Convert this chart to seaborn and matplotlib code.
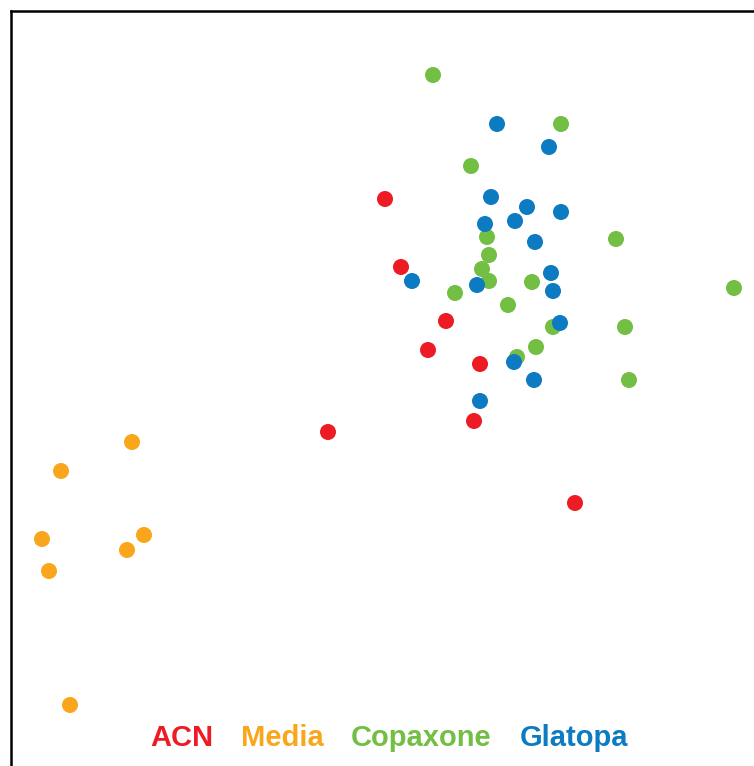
import pandas as pd
import seaborn as sns
import matplotlib.pyplot as plt
import numpy as np

# -----------------------------
# data (arbitrary units)
# -----------------------------
acn_x = [37.4, 39.0, 43.5, 41.7, 46.9, 46.3, 31.7, 56.4]
acn_y = [56.7, 49.9, 44.5, 41.6, 40.2, 34.5, 33.4, 26.3]

media_x = [12.1, 5.0, 3.1, 3.8, 13.3, 11.6, 5.9]
media_y = [32.4, 29.5, 22.7, 19.5, 23.1, 21.6, 6.1]

copaxone_x = [42.2, 55.0, 46.0, 47.6, 60.5, 47.8, 47.1, 47.8, 52.1, 44.4,
              49.7, 54.2, 61.4, 52.5, 50.6, 61.8, 72.3]
copaxone_y = [69.1, 64.2, 60.0, 52.9, 52.7, 51.1, 49.7, 48.5, 48.4, 47.3,
              46.1, 43.9, 43.9, 41.9, 40.9, 38.6, 47.8]

glatopa_x = [48.6, 53.8, 48.0, 51.6, 55.0, 50.4, 47.4, 52.4, 54.0, 40.1,
             46.6, 54.2, 54.9, 50.3, 52.3, 46.9]
glatopa_y = [64.2, 61.9, 56.9, 55.9, 55.4, 54.5, 54.2, 52.4, 49.3, 48.5,
             48.1, 47.5, 44.3, 40.4, 38.6, 36.5]

groups = ["ACN", "Media", "Copaxone", "Glatopa"]
colors = ["#ED1C24", "#F9A61C", "#72BF44", "#0C7BC1"]

df = pd.concat([
    pd.DataFrame({"x": acn_x, "y": acn_y, "group": "ACN"}),
    pd.DataFrame({"x": media_x, "y": media_y, "group": "Media"}),
    pd.DataFrame({"x": copaxone_x, "y": copaxone_y, "group": "Copaxone"}),
    pd.DataFrame({"x": glatopa_x, "y": glatopa_y, "group": "Glatopa"}),
], ignore_index=True)

# -----------------------------
# plot
# -----------------------------
sns.set_style("white")
plt.rcParams['font.family'] = ['Liberation Sans', 'DejaVu Sans']

fig = plt.figure(figsize=(7.54, 7.66), dpi=100)
# axes runs past the right and bottom edge of the picture (cropped frame)
ax = fig.add_axes([11 / 754, -10 / 766, 780 / 754, 765 / 766])

sns.scatterplot(data=df, x="x", y="y", hue="group", hue_order=groups,
                palette=colors, s=133, linewidth=0, alpha=1,
                ax=ax, legend=True)

ax.set_xlim(0, 78.0)
ax.set_ylim(-1.0, 75.5)
ax.set_xticks([])
ax.set_yticks([])
ax.set_xlabel("")
ax.set_ylabel("")
for side in ["right", "bottom"]:
    ax.spines[side].set_visible(False)
for side in ["left", "top"]:
    ax.spines[side].set_color("black")
    ax.spines[side].set_linewidth(1.8)

# legend: coloured bold labels only
sns.move_legend(ax, "center", bbox_to_anchor=(389 / 754, 28 / 766),
                bbox_transform=fig.transFigure, ncol=4, frameon=False,
                title=None, handlelength=0, handletextpad=0,
                columnspacing=0.95, fontsize=21)
leg = ax.get_legend()
for h in leg.legend_handles:
    h.set_visible(False)
for txt, c in zip(leg.get_texts(), colors):
    txt.set_color(c)
    txt.set_fontweight("bold")

plt.savefig("out.png", dpi=100)
